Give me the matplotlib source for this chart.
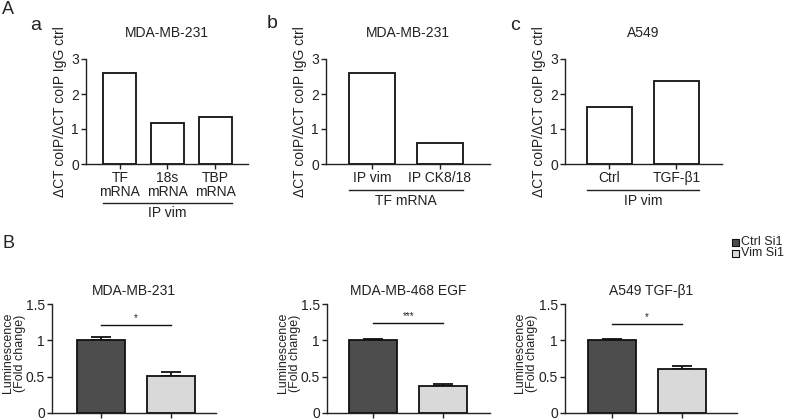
import matplotlib
matplotlib.use("Agg")
import matplotlib.pyplot as plt
from matplotlib.patches import Rectangle

plt.rcParams['font.family'] = ['Liberation Sans', 'DejaVu Sans']
plt.rcParams['font.size'] = 10
plt.rcParams['text.color'] = "#222222"
plt.rcParams['xtick.color'] = "#222222"
plt.rcParams['ytick.color'] = "#222222"
plt.rcParams['axes.labelcolor'] = "#222222"

W, H = 788, 420

# --- panel A data (ΔCT coIP / ΔCT coIP IgG ctrl) ---
a_labels = ["TF\nmRNA", "18s\nmRNA", "TBP\nmRNA"]
a_values = [2.6, 1.18, 1.34]
b_labels = ["IP vim", "IP CK8/18"]
b_values = [2.6, 0.6]
c_labels = ["Ctrl", "TGF-β1"]
c_values = [1.64, 2.38]

# --- panel B data (luminescence, fold change) ---
lum_groups = ["Ctrl Si1", "Vim Si1"]
lum_titles = ["MDA-MB-231", "MDA-MB-468 EGF", "A549 TGF-β1"]
lum_means = [[1.0, 0.51], [1.0, 0.37], [1.0, 0.61]]
lum_err = [[0.04, 0.06], [0.02, 0.03], [0.02, 0.03]]
lum_sig = ["*", "***", "*"]
lum_sig_y = [1.21, 1.24, 1.22]

DARK = "#4d4d4d"
LIGHT = "#d9d9d9"
FS = 10

fig = plt.figure(figsize=(W / 100, H / 100), dpi=100)


def px_axes(x0, x1, ytop, ybot):
    return fig.add_axes([x0 / W, 1 - ybot / H, (x1 - x0) / W, (ybot - ytop) / H])


def style(ax):
    for s in ("top", "right"):
        ax.spines[s].set_visible(False)
    for s in ("left", "bottom"):
        ax.spines[s].set_linewidth(1.0)
        ax.spines[s].set_color("#222222")
    ax.tick_params(direction="out", length=3.5, width=1.0, labelsize=FS, pad=1.5)


def ct_panel(rect, labels, values, width, title, group, line_y, xlim):
    ax = px_axes(*rect)
    style(ax)
    x = list(range(len(values)))
    ax.bar(x, values, width=width, color="white", edgecolor="#111111", linewidth=1.3)
    ax.set_xlim(*xlim)
    ax.set_ylim(0, 3)
    ax.set_yticks([0, 1, 2, 3])
    ax.set_xticks(x)
    ax.set_xticklabels(labels, fontsize=FS, linespacing=1.05)
    ax.set_ylabel("ΔCT coIP/ΔCT coIP IgG ctrl", fontsize=FS, labelpad=3)
    ax.text(0.5, 1.25, title, transform=ax.transAxes, ha="center", va="center", fontsize=FS)
    tr = ax.get_xaxis_transform()
    x_lo = x[0] - width / 2
    x_hi = x[-1] + width / 2
    ax.plot([x_lo, x_hi], [line_y, line_y], color="#222222", lw=1.0, transform=tr, clip_on=False)
    ax.text((x_lo + x_hi) / 2, line_y - 0.1, group, transform=tr, ha="center", va="center",
            fontsize=FS)
    return ax


ct_panel((86, 248, 59, 164), a_labels, a_values, 0.69, "MDA-MB-231", "IP vim", -0.37,
         (-0.71, 2.69))
ct_panel((326, 490, 59, 164), b_labels, b_values, 0.67, "MDA-MB-231", "TF mRNA", -0.25,
         (-0.68, 1.74))
ct_panel((565, 722, 59, 164), c_labels, c_values, 0.67, "A549", "IP vim", -0.25,
         (-0.66, 1.68))

# --- panel B ---
lum_rects = [(52, 216, 304, 413), (327, 490, 304, 413), (565, 737, 304, 413)]
lum_xlims = [(-0.7, 1.64), (-0.66, 1.67), (-0.67, 1.79)]
lum_label_dx = [-38, -38, -39]
for rect, xl, dx, title, means, errs, sig, sy in zip(lum_rects, lum_xlims, lum_label_dx,
                                                     lum_titles, lum_means, lum_err,
                                                     lum_sig, lum_sig_y):
    ax = px_axes(*rect)
    style(ax)
    x = [0, 1]
    ax.bar(x, means, width=0.68, color=[DARK, LIGHT], edgecolor="#111111", linewidth=1.3,
           zorder=2)
    ax.errorbar(x, means, yerr=[[0, 0], errs], fmt="none", ecolor="#111111", elinewidth=1.3,
                capsize=7, capthick=1.3, zorder=1)
    ax.set_xlim(*xl)
    ax.set_ylim(0, 1.5)
    ax.set_yticks([0, 0.5, 1, 1.5])
    ax.set_yticklabels(["0", "0.5", "1", "1.5"])
    ax.set_xticks(x)
    ax.set_xticklabels(["", ""])
    ax.set_ylabel("Luminescence\n(Fold change)", fontsize=9, linespacing=1.0,
                  va="center")
    ax.yaxis.set_label_coords(dx / (rect[1] - rect[0]), 0.55)
    ax.text(0.5, 1.12, title, transform=ax.transAxes, ha="center", va="center", fontsize=FS)
    ax.plot([0, 1], [sy, sy], color="#111111", lw=1.0)
    ax.text(0.5, sy + 0.03, sig, ha="center", va="bottom", fontsize=7)

# legend for panel B
for i, (lab, col) in enumerate(zip(lum_groups, [DARK, LIGHT])):
    yy = 242 + i * 11
    fig.patches.append(Rectangle((732 / W, 1 - (yy + 3.5) / H), 7 / W, 7 / H,
                                 transform=fig.transFigure, facecolor=col,
                                 edgecolor="#111111", linewidth=0.8))
    fig.text(741 / W, 1 - yy / H, lab, ha="left", va="center", fontsize=9)

# panel letters
fig.text(2 / W, 1 - 10 / H, "A", fontsize=13, ha="left", va="center")
fig.text(36 / W, 1 - 25 / H, "a", fontsize=14, ha="center", va="center")
fig.text(272 / W, 1 - 24 / H, "b", fontsize=14, ha="center", va="center")
fig.text(515 / W, 1 - 25 / H, "c", fontsize=14, ha="center", va="center")
fig.text(2 / W, 1 - 243 / H, "B", fontsize=13, ha="left", va="center")

fig.savefig("out.png", dpi=100)
